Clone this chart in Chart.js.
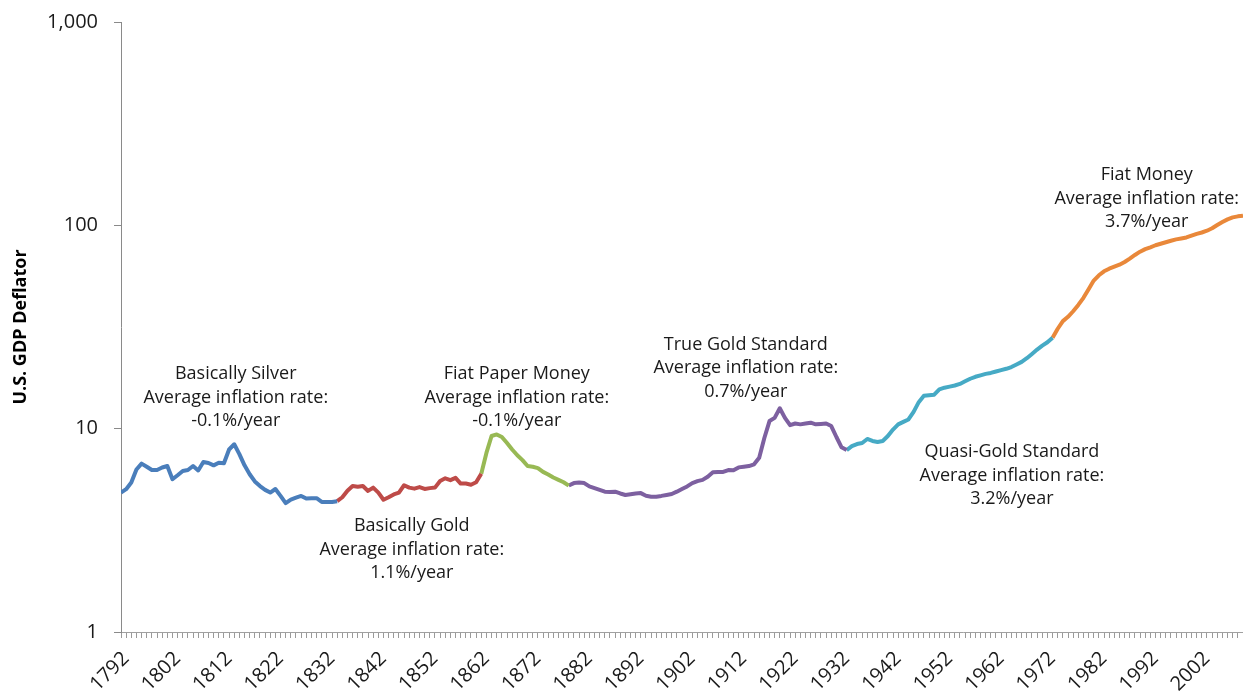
<!DOCTYPE html>
<html>
<head>
<meta charset="utf-8">
<script src="https://cdn.jsdelivr.net/npm/chart.js@4/dist/chart.umd.min.js"></script>
<style>
  html, body { margin: 0; padding: 0; background: #ffffff; }
  #wrap { width: 1243px; height: 698px; }
</style>
</head>
<body>
<div id="wrap"><canvas id="c" width="1243" height="698"></canvas></div>
<script>
// ---------- DATA ----------
const firstYear = 1792;
const lastYear = 2010;
// U.S. GDP deflator, one value per year 1792..2010
const deflator = [
  4.85, 5.04, 5.43, 6.3, 6.73, 6.5, 6.26, 6.26, 6.44, 6.55,
  5.64, 5.9, 6.19, 6.26, 6.55, 6.23, 6.85, 6.78, 6.6, 6.8,
  6.76, 7.9, 8.38, 7.5, 6.6, 5.97, 5.5, 5.22, 5.0, 4.85,
  5.05, 4.67, 4.3, 4.48, 4.58, 4.67, 4.53, 4.55, 4.55, 4.36,
  4.36, 4.36, 4.4, 4.6, 4.95, 5.22, 5.18, 5.22, 4.94, 5.13,
  4.85, 4.47, 4.6, 4.75, 4.85, 5.27, 5.13, 5.07, 5.16, 5.05,
  5.1, 5.13, 5.53, 5.70, 5.58, 5.73, 5.37, 5.37, 5.3, 5.45,
  6.0, 7.6, 9.2, 9.37, 9.1, 8.5, 7.9, 7.4, 7.0, 6.55,
  6.5, 6.4, 6.13, 5.95, 5.75, 5.6, 5.45, 5.25, 5.4, 5.43,
  5.4, 5.2, 5.1, 5.0, 4.9, 4.88, 4.9, 4.8, 4.72, 4.76,
  4.8, 4.82, 4.68, 4.63, 4.63, 4.67, 4.72, 4.77, 4.9, 5.05,
  5.2, 5.4, 5.52, 5.6, 5.8, 6.1, 6.13, 6.13, 6.26, 6.24,
  6.45, 6.5, 6.55, 6.68, 7.2, 9.0, 10.9, 11.3, 12.6, 11.3,
  10.4, 10.6, 10.5, 10.6, 10.7, 10.5, 10.55, 10.6, 10.3, 9.1,
  8.1, 7.85, 8.2, 8.4, 8.5, 8.9, 8.7, 8.6, 8.7, 9.2,
  9.9, 10.5, 10.8, 11.1, 12.1, 13.5, 14.5, 14.6, 14.7, 15.6,
  15.9, 16.1, 16.3, 16.6, 17.1, 17.6, 18.0, 18.3, 18.6, 18.8,
  19.1, 19.4, 19.7, 20.1, 20.7, 21.3, 22.2, 23.3, 24.5, 25.6,
  26.6, 28.0, 31.0, 33.8, 35.5, 37.8, 40.6, 44.0, 48.5, 53.5,
  56.8, 59.4, 61.2, 62.6, 64.0, 66.0, 68.6, 71.5, 74.2, 76.4,
  78.0, 79.8, 81.2, 82.6, 84.0, 85.3, 86.2, 87.2, 89.0, 90.8,
  92.2, 94.1, 96.7, 100.3, 103.8, 107.0, 109.4, 110.7, 111.5
];
const eraNames = ['Basically Silver', 'Basically Gold', 'Fiat Paper Money', 'True Gold Standard', 'Quasi-Gold Standard', 'Fiat Money'];
const eraStartYears = [1792, 1834, 1862, 1879, 1933, 1973];
const eraEndYears   = [1834, 1862, 1879, 1933, 1973, 2010];
const eraRates = ['-0.1%/year', '1.1%/year', '-0.1%/year', '0.7%/year', '3.2%/year', '3.7%/year'];
const yTickValues = [1, 10, 100, 1000];
const xLabelStep = 10;

// ---------- STYLE / ANNOTATION PLACEMENT ----------
const eraColors = ['#4A7EBB', '#BE4B48', '#98B954', '#7D60A0', '#46AAC5', '#E9883A'];
// anchor of first text line, in data coordinates (year, deflator value)
const annoYear  = [1814.3, 1848.5, 1868.9, 1913.4, 1965.1, 1991.3];
const annoValue = [18.5, 3.31, 18.5, 25.9, 7.65, 177];
const annoLineGap = 23.5;
const FONT = '"Open Sans", "DejaVu Sans", sans-serif';

const datasets = eraNames.map((name, k) => {
  const pts = [];
  for (let yr = eraStartYears[k]; yr <= eraEndYears[k]; yr++) {
    pts.push({ x: yr, y: deflator[yr - firstYear] });
  }
  return {
    label: name,
    data: pts,
    borderColor: eraColors[k],
    backgroundColor: eraColors[k],
    borderWidth: 4,
    pointRadius: 0,
    pointHoverRadius: 0,
    tension: 0,
    borderJoinStyle: 'round',
    borderCapStyle: 'butt',
    fill: false
  };
});

const annotationPlugin = {
  id: 'eraText',
  afterDatasetsDraw(chart) {
    const ctx = chart.ctx;
    const xs = chart.scales.x, ys = chart.scales.y;
    ctx.save();
    ctx.font = '18px ' + FONT;
    ctx.fillStyle = '#1a1a1a';
    ctx.textAlign = 'center';
    ctx.textBaseline = 'middle';
    eraNames.forEach((name, k) => {
      const px = xs.getPixelForValue(annoYear[k]);
      const py = ys.getPixelForValue(annoValue[k]);
      const lines = [name, 'Average inflation rate:', eraRates[k]];
      lines.forEach((t, i) => ctx.fillText(t, px, py + i * annoLineGap));
    });
    ctx.restore();
  }
};

new Chart(document.getElementById('c'), {
  type: 'line',
  data: { datasets },
  plugins: [annotationPlugin],
  options: {
    responsive: false,
    devicePixelRatio: 1,
    animation: false,
    layout: { padding: { top: 22, right: 0, left: 0, bottom: 0 } },
    plugins: { legend: { display: false }, tooltip: { enabled: false }, title: { display: false } },
    scales: {
      x: {
        type: 'linear',
        min: firstYear,
        max: lastYear,
        afterFit(scale) { scale.height = 66; scale.paddingRight = 0; scale.paddingLeft = 0; },
        border: { display: true, color: '#a0a0a0', width: 1 },
        grid: { drawOnChartArea: false, drawTicks: true, tickLength: 6, color: '#9a9a9a', lineWidth: 1 },
        ticks: {
          stepSize: 1,
          autoSkip: false,
          maxRotation: 45,
          minRotation: 45,
          padding: 9,
          labelOffset: 5,
          color: '#1a1a1a',
          font: { family: FONT, size: 20 },
          callback: (v) => ((v - firstYear) % xLabelStep === 0 ? String(v) : '')
        }
      },
      y: {
        type: 'logarithmic',
        min: 1,
        max: 1000,
        afterFit(scale) { scale.width = 121; scale.paddingTop = 0; scale.paddingBottom = 0; },
        afterBuildTicks(scale) { scale.ticks = yTickValues.map(v => ({ value: v })); },
        border: { display: true, color: '#8a8a8a', width: 1 },
        grid: { drawOnChartArea: false, drawTicks: true, tickLength: 7, color: '#8a8a8a' },
        ticks: {
          padding: 16,
          color: '#1a1a1a',
          font: { family: FONT, size: 20 },
          callback: (v) => Number(v).toLocaleString('en-US')
        },
        title: {
          display: true,
          text: 'U.S. GDP Deflator',
          color: '#000000',
          font: { family: FONT, size: 18, weight: 'bold' },
          padding: { top: 10, bottom: 0 }
        }
      }
    }
  }
});
</script>
</body>
</html>
